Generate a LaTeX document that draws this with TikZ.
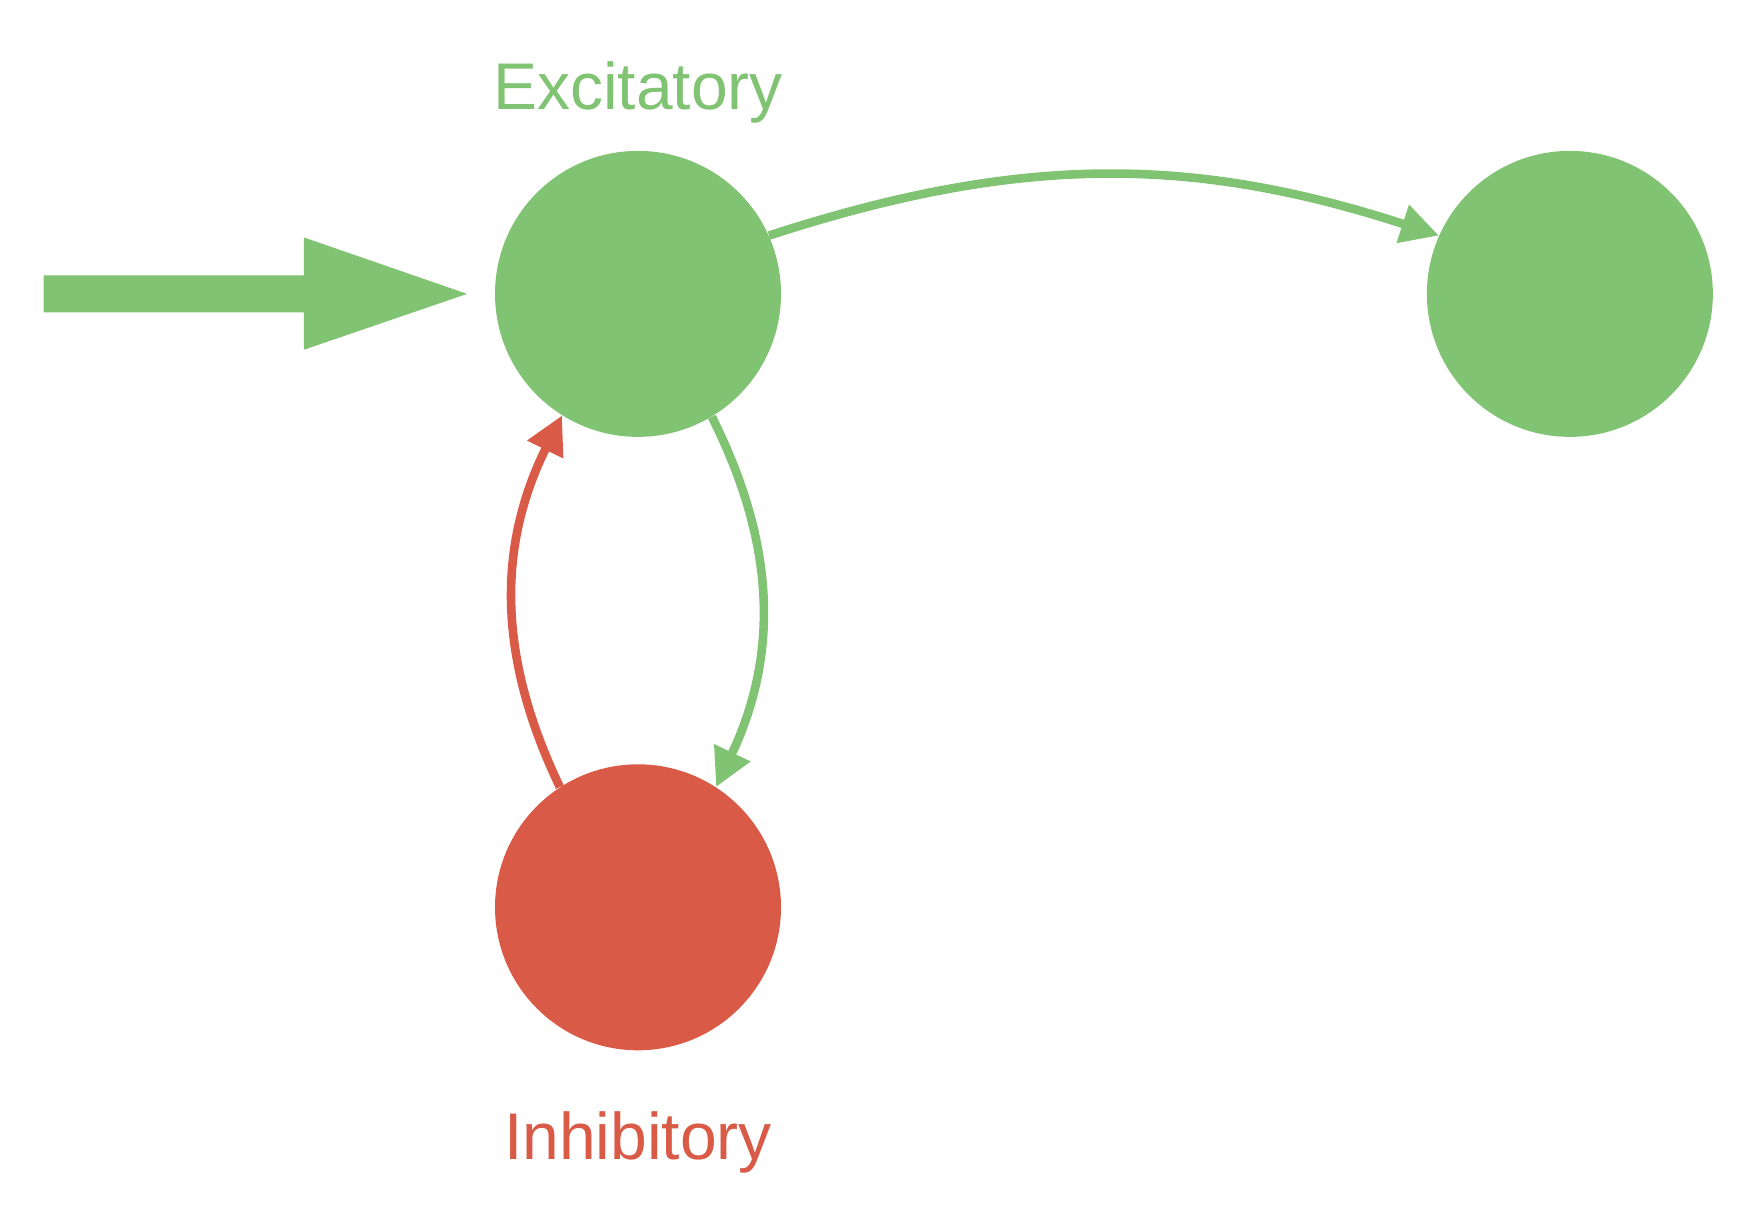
\documentclass[tikz,border=0pt]{standalone}
\usepackage{fontspec}
\setmainfont{Liberation Sans}
\usetikzlibrary{arrows.meta}
\definecolor{exc}{RGB}{128,195,114}
\definecolor{inh}{RGB}{217,90,70}
\begin{document}
\begin{tikzpicture}[x=0.5587pt,y=-0.5587pt,
  neuron/.style={circle,inner sep=0pt,minimum size=143pt},
  lbl/.style={anchor=base,font=\fontsize{33}{36}\selectfont},
  syn/.style={line width=4.3pt,-{Triangle[length=19pt,width=19pt]}}]
\useasboundingbox (0,0) rectangle (1568,1088);
\node[neuron,fill=exc] (E) at (571,263) {};
\node[neuron,fill=exc] (R) at (1405,263) {};
\node[neuron,fill=inh] (I) at (571,812) {};
\node[lbl,text=exc] (Et) at (571,98) {Excitatory};
\node[lbl,text=inh] (It) at (571,1038) {Inhibitory};
\coordinate (in0) at (39,263);
\fill[exc] (in0) ++(0,-16.5) -- ++(233,0) -- ++(0,-34) -- (418,263) -- (272,313) -- (272,279.5) -- (39,279.5) -- cycle;
\draw[syn,exc] (E.24) to[bend left=18] (R.156);
\draw[syn,exc] (E.-59) to[bend left=26] (I.57);
\draw[syn,inh] (I.123) to[bend left=26] (E.238);
\end{tikzpicture}
\end{document}
